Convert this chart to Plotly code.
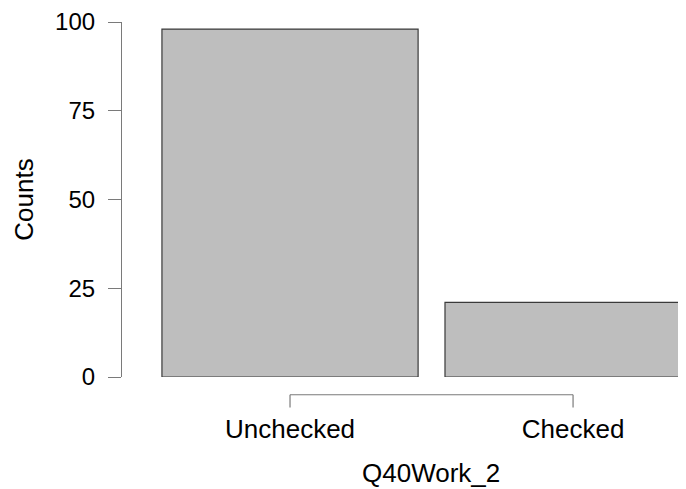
import plotly.graph_objects as go

categories = ["Unchecked", "Checked"]
counts = [98, 21]
y_ticks = [0, 25, 50, 75, 100]
x_title = "Q40Work_2"
y_title = "Counts"

FONT = "Liberation Sans, Arial, Helvetica, sans-serif"
AXIS_COLOR = "#7a7a7a"

# page has an 8px body margin, so the figure is sized/offset to compensate
fig = go.Figure()
fig.add_trace(go.Bar(
    x=list(range(len(categories))),
    y=counts,
    width=0.905,
    marker=dict(color="#bebebe", line=dict(color="#3a3a3a", width=1.2)),
    hoverinfo="x+y",
))

# R-style detached x axis line and ticks (between category centres)
line_y = -0.05
tick_y = -0.086
fig.add_shape(type="line", xref="x", yref="paper",
              x0=0, x1=len(categories) - 1, y0=line_y, y1=line_y,
              line=dict(color=AXIS_COLOR, width=1.2))
for i in range(len(categories)):
    fig.add_shape(type="line", xref="x", yref="paper",
                  x0=i, x1=i, y0=line_y, y1=tick_y,
                  line=dict(color=AXIS_COLOR, width=1.2))

fig.add_annotation(text=x_title, xref="paper", yref="paper",
                   x=0.548, y=-0.27, xanchor="center", yanchor="middle",
                   showarrow=False, font=dict(family=FONT, size=26, color="black"))

fig.update_layout(
    width=678, height=481,
    margin=dict(l=114, r=0, t=14, b=112, autoexpand=False),
    plot_bgcolor="white", paper_bgcolor="white",
    showlegend=False,
    font=dict(family=FONT, size=24, color="black"),
    xaxis=dict(
        range=[-0.5936, 1.399],
        tickmode="array",
        tickvals=list(range(len(categories))),
        ticktext=categories,
        showline=False, showgrid=False, zeroline=False,
        ticks="",
        ticklabelstandoff=34,
        tickfont=dict(family=FONT, size=26, color="black"),
        automargin=False,
    ),
    yaxis=dict(
        range=[0, 100],
        tickmode="array",
        tickvals=y_ticks,
        ticktext=[str(v) for v in y_ticks],
        showline=True, linecolor=AXIS_COLOR, linewidth=1.2,
        ticks="outside", ticklen=13, tickcolor=AXIS_COLOR, tickwidth=1.2,
        ticklabelstandoff=8,
        showgrid=False, zeroline=False,
        tickfont=dict(family=FONT, size=24, color="black"),
        title=dict(text=y_title, standoff=13, font=dict(family=FONT, size=26, color="black")),
        automargin=False,
    ),
)

fig.write_html("out.html")
